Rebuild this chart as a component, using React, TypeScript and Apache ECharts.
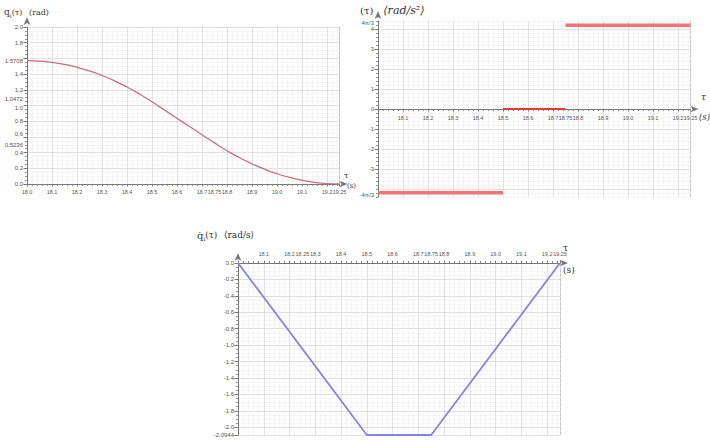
import React, { useEffect, useRef } from 'react';
import * as echarts from 'echarts';

// ---- Position q_i(τ) (rad) ----
const posTimes = [18.0, 18.05, 18.1, 18.15, 18.2, 18.25, 18.3, 18.35, 18.4, 18.45, 18.5, 18.55, 18.6, 18.65, 18.7, 18.75, 18.8, 18.85, 18.9, 18.95, 19.0, 19.05, 19.1, 19.15, 19.2, 19.25];
const posValues = [1.5708, 1.5656, 1.5499, 1.5237, 1.487, 1.4399, 1.3823, 1.3142, 1.2357, 1.1467, 1.0472, 0.9425, 0.8378, 0.733, 0.6283, 0.5236, 0.4241, 0.3351, 0.2566, 0.1885, 0.1309, 0.0838, 0.0471, 0.0209, 0.0052, 0.0];

// ---- Acceleration (rad/s²), piecewise constant ----
const accStart = [18.0, 18.5, 18.75];
const accEnd = [18.5, 18.75, 19.25];
const accValues = [-4.1888, 0, 4.1888];

// ---- Velocity (rad/s) ----
const velTimes = [18.0, 18.5, 18.75, 19.25];
const velValues = [0, -2.0944, -2.0944, 0];

// ---- Tick labels ----
const posXLabels = [18.0, 18.1, 18.2, 18.3, 18.4, 18.5, 18.6, 18.7, 18.75, 18.8, 18.9, 19.0, 19.1, 19.2, 19.25];
const accXLabels = [18.1, 18.2, 18.3, 18.4, 18.5, 18.6, 18.7, 18.75, 18.8, 18.9, 19.0, 19.1, 19.2, 19.25];
const velXLabels = [18.1, 18.2, 18.25, 18.3, 18.4, 18.5, 18.6, 18.7, 18.75, 18.8, 18.9, 19.0, 19.1, 19.2, 19.25];
const posYTicks = [0, 0.2, 0.4, 0.6, 0.8, 1.0, 1.2, 1.4, 1.6, 1.8, 2.0];
const posYLabels = [0, 0.2, 0.4, 0.5236, 0.6, 0.8, 1.0, 1.0472, 1.2, 1.4, 1.5708, 1.8, 2.0];
const accYTicks = [-4, -3, -2, -1, 0, 1, 2, 3, 4];
const accYLabels = [-4.1888, -4, -3, -2, -1, 0, 1, 2, 3, 4, 4.1888];
const velYTicks = [0, -0.2, -0.4, -0.6, -0.8, -1.0, -1.2, -1.4, -1.6, -1.8, -2.0, -2.0944];
const velYLabels = [0, -0.2, -0.4, -0.6, -0.8, -1.0, -1.2, -1.4, -1.6, -1.8, -2.0, -2.0944];

const FONT = 'Liberation Sans';
const labelStyle = { fontSize: 6, color: '#555', fontFamily: FONT };
const xLabelStyle = { fontSize: 5.5, color: '#555', fontFamily: FONT };

const isTenth = (v: number) => Math.abs(v * 10 - Math.round(v * 10)) < 1e-6;
const fmtX = (v: number) => (isTenth(v) ? v.toFixed(1) : v.toFixed(2));
const fmtY = (v: number) => (isTenth(v) ? v.toFixed(1) : v.toFixed(4));
const fmtPosY = (v: number) => {
  if (Math.abs(v - 1.0472) < 1e-3) return '{up|1.0472}';
  if (Math.abs(v - 1.0) < 1e-6) return '{dn|1.0}';
  if (Math.abs(v - 0.5236) < 1e-3) return '{dn|0.5236}';
  if (Math.abs(v - 0.6) < 1e-6) return '{up|0.6}';
  return fmtY(v);
};
const fmtAcc = (v: number) => {
  if (Math.abs(v - 4.1888) < 1e-3) return '{up|4π/3}';
  if (Math.abs(v + 4.1888) < 1e-3) return '{dn|-4π/3}';
  return String(Math.round(v));
};
const nudgeRich = {
  up: { fontSize: 6, color: '#555', fontFamily: FONT, padding: [0, 0, 5, 0] },
  dn: { fontSize: 6, color: '#555', fontFamily: FONT, padding: [4, 0, 0, 0] },
};

const range = (a: number, b: number, step: number) => {
  const out: number[] = [];
  const n = Math.round((b - a) / step);
  for (let i = 0; i <= n; i++) out.push(+(a + i * step).toFixed(6));
  return out;
};

const axisColor = '#777';

function xAxisDef(gridIndex: number, labels: number[], position: string, margin: number, offset: number) {
  return {
    type: 'value',
    gridIndex,
    min: 18.0,
    max: 19.25,
    interval: 0.1,
    position,
    offset,
    axisLine: {
      onZero: false,
      lineStyle: { color: axisColor, width: 1 },
      symbol: ['none', 'arrow'],
      symbolSize: [5, 8],
      symbolOffset: [0, 8],
    },
    axisTick: { show: true, length: 2.5, lineStyle: { color: axisColor } },
    minorTick: { show: true, splitNumber: 5, length: 2, lineStyle: { color: '#888' } },
    axisLabel: { customValues: labels, formatter: fmtX, margin, showMinLabel: true, showMaxLabel: true, ...xLabelStyle },
    splitLine: { show: true, lineStyle: { color: '#d6d6d6', width: 0.7 } },
    minorSplitLine: { show: true, lineStyle: { color: '#ececec', width: 0.5 } },
  };
}

function yMinorDef(gridIndex: number, min: number, max: number, ticks: number[]) {
  return {
    type: 'value',
    gridIndex,
    min,
    max,
    position: 'left',
    axisLine: { show: false, onZero: false },
    axisTick: { show: true, customValues: ticks, length: 2, lineStyle: { color: '#999' } },
    axisLabel: { show: false },
    splitLine: { show: true, lineStyle: { color: '#ececec', width: 0.5 } },
  };
}

function yMainDef(gridIndex: number, min: number, max: number, ticks: number[], labels: number[], formatter: (v: number) => string) {
  return {
    type: 'value',
    gridIndex,
    min,
    max,
    position: 'left',
    axisLine: {
      show: true,
      onZero: false,
      lineStyle: { color: axisColor, width: 1 },
      symbol: ['none', 'arrow'],
      symbolSize: [5, 8],
      symbolOffset: [0, 10],
    },
    axisTick: { show: true, customValues: ticks, length: 3.5, lineStyle: { color: axisColor } },
    axisLabel: { customValues: labels, formatter, margin: 4, showMinLabel: true, showMaxLabel: true, rich: nudgeRich, ...labelStyle },
    splitLine: { show: true, lineStyle: { color: '#d6d6d6', width: 0.7 } },
  };
}

const borderMark = {
  silent: true,
  symbol: ['none', 'none'],
  label: { show: false },
  lineStyle: { type: 'dashed', color: '#bbb', width: 0.8 },
  data: [{ xAxis: 19.25 }],
};

export default function App() {
  const ref = useRef<HTMLDivElement>(null);
  useEffect(() => {
    const chart = echarts.init(ref.current!, null, { renderer: 'svg' });

    const accSeries = accValues.map((v, i) => ({
      type: 'line',
      xAxisIndex: 1,
      yAxisIndex: 3,
      data: [
        [accStart[i], v],
        [accEnd[i], v],
      ],
      showSymbol: false,
      z: 5,
      lineStyle: v === 0 ? { color: '#e03a3a', width: 1.8 } : { color: '#f27474', width: 3.5 },
      ...(i === 0 ? { markLine: borderMark } : {}),
    }));

    const option: any = {
      animation: false,
      backgroundColor: '#ffffff',
      grid: [
        { left: 27, top: 27, width: 312.5, height: 157 },
        { left: 378, top: 21, width: 312.5, height: 176 },
        { left: 238, top: 263, width: 322, height: 172 },
      ],
      xAxis: [
        xAxisDef(0, posXLabels, 'bottom', 5, 0),
        xAxisDef(1, accXLabels, 'bottom', 6, -88),
        xAxisDef(2, velXLabels, 'top', 6, 0),
      ],
      yAxis: [
        yMinorDef(0, 0, 2.0, range(0, 2.0, 0.05)),
        yMainDef(0, 0, 2.0, posYTicks, posYLabels, fmtPosY),
        yMinorDef(1, -4.4, 4.4, range(-4.4, 4.4, 0.2)),
        yMainDef(1, -4.4, 4.4, accYTicks, accYLabels, fmtAcc),
        yMinorDef(2, -2.0944, 0, range(-2.0, 0, 0.05)),
        yMainDef(2, -2.0944, 0, velYTicks, velYLabels, fmtY),
      ],
      series: [
        {
          type: 'line',
          xAxisIndex: 0,
          yAxisIndex: 1,
          data: posTimes.map((t, i) => [t, posValues[i]]),
          smooth: true,
          showSymbol: false,
          z: 5,
          lineStyle: { color: '#c4727e', width: 1.3 },
          markLine: borderMark,
        },
        ...accSeries,
        {
          type: 'line',
          xAxisIndex: 2,
          yAxisIndex: 5,
          data: velTimes.map((t, i) => [t, velValues[i]]),
          showSymbol: false,
          z: 5,
          lineStyle: { color: '#8882e0', width: 1.8 },
          markLine: borderMark,
        },
      ],
      graphic: [
        {
          type: 'text',
          left: 4,
          top: 6,
          style: {
            text: '{q|q}{s|i}{t|(τ)}  {t|(rad)}',
            rich: {
              q: { fontSize: 9, fontFamily: 'DejaVu Serif', fill: '#333' },
              s: { fontSize: 6, fontFamily: 'DejaVu Serif', fill: '#333', verticalAlign: 'bottom', padding: [5, 0, 0, 0] },
              t: { fontSize: 8, fontFamily: 'DejaVu Serif', fill: '#333' },
            },
          },
        },
        { type: 'text', left: 344, top: 171, style: { text: 'τ', fontSize: 8, fontFamily: 'DejaVu Serif', fill: '#333' } },
        { type: 'text', left: 347, top: 182, style: { text: '(s)', fontSize: 7, fontFamily: 'DejaVu Serif', fill: '#333' } },
        {
          type: 'text',
          left: 360,
          top: 4,
          style: {
            text: '{t|(τ)}   {u|⟨rad/s²⟩}',
            rich: {
              t: { fontSize: 10, fontFamily: 'DejaVu Serif', fill: '#333' },
              u: { fontSize: 11, fontFamily: 'DejaVu Serif', fontStyle: 'italic', fill: '#333' },
            },
          },
        },
        { type: 'text', left: 701, top: 92, style: { text: 'τ', fontSize: 9, fontFamily: 'DejaVu Serif', fontStyle: 'italic', fill: '#333' } },
        { type: 'text', left: 699, top: 112, style: { text: '(s)', fontSize: 8.5, fontFamily: 'DejaVu Serif', fontStyle: 'italic', fill: '#333' } },
        {
          type: 'text',
          left: 197,
          top: 229,
          style: {
            text: '{q|q̇}{s|i}{t|(τ)}  {t|⟨rad/s⟩}',
            rich: {
              q: { fontSize: 10, fontFamily: 'DejaVu Serif', fill: '#333' },
              s: { fontSize: 6, fontFamily: 'DejaVu Serif', fill: '#333', verticalAlign: 'bottom', padding: [5, 0, 0, 0] },
              t: { fontSize: 9, fontFamily: 'DejaVu Serif', fill: '#333' },
            },
          },
        },
        { type: 'text', left: 563, top: 243, style: { text: 'τ', fontSize: 9, fontFamily: 'DejaVu Serif', fill: '#333' } },
        { type: 'text', left: 563, top: 265, style: { text: '(s)', fontSize: 9, fontFamily: 'DejaVu Serif', fill: '#333' } },
      ],
    };

    chart.setOption(option);
    return () => chart.dispose();
  }, []);
  return <div ref={ref} style={{ position: 'absolute', left: 0, top: 0, width: 710, height: 441 }} />;
}
